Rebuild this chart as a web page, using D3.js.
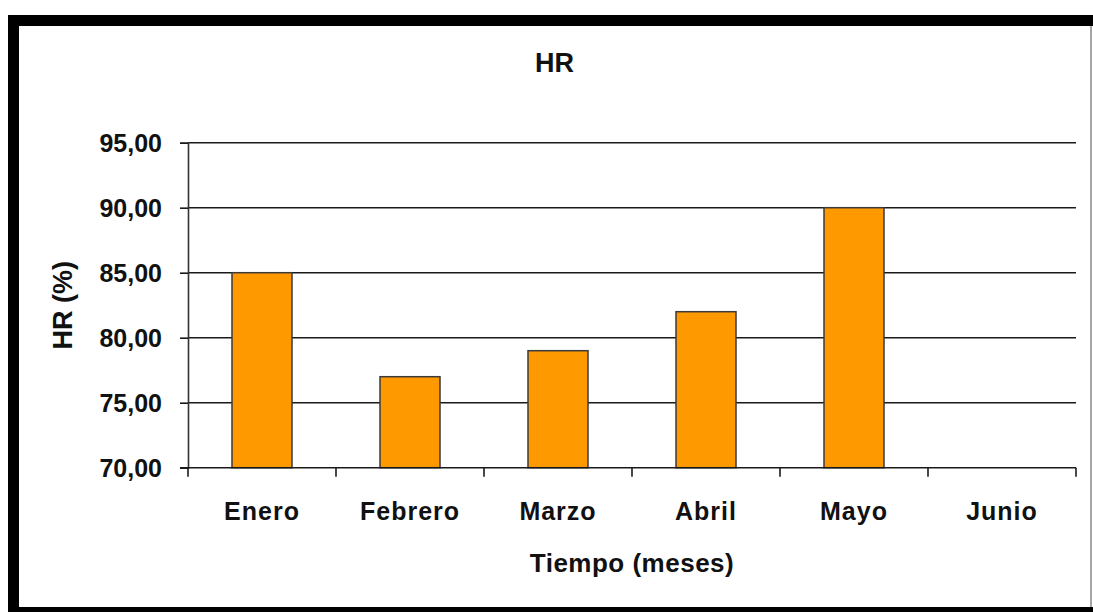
<!DOCTYPE html>
<html>
<head>
<meta charset="utf-8">
<script src="https://cdn.jsdelivr.net/npm/d3@7"></script>
<style>
  html, body { margin: 0; padding: 0; background: #fff; }
  svg text { font-family: "Liberation Sans", Arial, sans-serif; font-weight: bold; fill: #111; }
</style>
</head>
<body>
<div id="chart"></div>
<script>
// data
const months = ['Enero', 'Febrero', 'Marzo', 'Abril', 'Mayo', 'Junio'];
const hrValues = [85, 77, 79, 82, 90, null];
const yTicks = [70, 75, 80, 85, 90, 95];

const width = 1093, height = 612;
const margin = { top: 142.7, right: 17, bottom: 144.3, left: 188 };

const svg = d3.select('#chart').append('svg')
  .attr('width', width)
  .attr('height', height);

// frame (thick black top/left/bottom, thin grey right)
svg.append('rect').attr('x', 8).attr('y', 15).attr('width', width - 8).attr('height', 11).attr('fill', '#000');
svg.append('rect').attr('x', 8).attr('y', 15).attr('width', 11).attr('height', height - 15).attr('fill', '#000');
svg.append('rect').attr('x', 8).attr('y', 607).attr('width', width - 8).attr('height', 5).attr('fill', '#000');
svg.append('line').attr('x1', 1091).attr('x2', 1091).attr('y1', 26).attr('y2', 607)
  .attr('stroke', '#888').attr('stroke-width', 1.5);

const x = d3.scaleBand()
  .domain(months)
  .range([margin.left, width - margin.right])
  .padding(0);

const y = d3.scaleLinear()
  .domain([70, 95])
  .range([height - margin.bottom, margin.top]);

const locale = d3.formatLocale({ decimal: ',', thousands: '.', grouping: [3], currency: ['', ''] });
const fmt = locale.format('.2f');

// gridlines
svg.append('g')
  .selectAll('line')
  .data(yTicks.filter(t => t > 70))
  .enter().append('line')
  .attr('x1', margin.left)
  .attr('x2', width - margin.right)
  .attr('y1', d => y(d))
  .attr('y2', d => y(d))
  .attr('stroke', '#1a1a1a')
  .attr('stroke-width', 1.6);

// bars
const barW = 60;
svg.append('g')
  .selectAll('rect')
  .data(months.map((m, i) => ({ m: m, v: hrValues[i] })).filter(d => d.v != null))
  .enter().append('rect')
  .attr('x', d => x(d.m) + (x.bandwidth() - barW) / 2)
  .attr('y', d => y(d.v))
  .attr('width', barW)
  .attr('height', d => y(70) - y(d.v))
  .attr('fill', '#ff9900')
  .attr('stroke', '#3a3a3a')
  .attr('stroke-width', 1.5);

// y axis
const yAxis = svg.append('g')
  .attr('transform', 'translate(' + margin.left + ',0)')
  .call(d3.axisLeft(y).tickValues(yTicks).tickSize(8).tickPadding(18).tickFormat(fmt));
yAxis.select('.domain').attr('stroke', '#333').attr('stroke-width', 1.6);
yAxis.selectAll('.tick line').attr('stroke', '#1a1a1a').attr('stroke-width', 1.6);
yAxis.selectAll('.tick text')
  .attr('font-size', 25)
  .attr('dy', '0.36em')
  .attr('fill', '#111');

// x axis: ticks on category boundaries
const xAxisG = svg.append('g')
  .attr('transform', 'translate(0,' + y(70) + ')');
xAxisG.append('line')
  .attr('x1', margin.left - 8).attr('x2', width - margin.right)
  .attr('stroke', '#1a1a1a').attr('stroke-width', 1.6);
const bounds = months.map(m => x(m)).concat([x.range()[1]]);
xAxisG.selectAll('.xt')
  .data(bounds)
  .enter().append('line')
  .attr('class', 'xt')
  .attr('x1', d => d).attr('x2', d => d)
  .attr('y1', 0).attr('y2', 9)
  .attr('stroke', '#1a1a1a').attr('stroke-width', 1.6);
xAxisG.selectAll('.xl')
  .data(months)
  .enter().append('text')
  .attr('class', 'xl')
  .attr('x', d => x(d) + x.bandwidth() / 2)
  .attr('y', 52)
  .attr('text-anchor', 'middle')
  .attr('font-size', 25)
  .attr('letter-spacing', 1)
  .text(d => d);

// titles
svg.append('text')
  .attr('x', 554.5).attr('y', 72)
  .attr('text-anchor', 'middle')
  .attr('font-size', 27)
  .text('HR');

svg.append('text')
  .attr('x', (margin.left + width - margin.right) / 2).attr('y', 572)
  .attr('text-anchor', 'middle')
  .attr('font-size', 26)
  .attr('letter-spacing', 0.5)
  .text('Tiempo (meses)');

svg.append('text')
  .attr('transform', 'translate(72,' + ((y(70) + y(95)) / 2) + ') rotate(-90)')
  .attr('text-anchor', 'middle')
  .attr('font-size', 27)
  .text('HR (%)');
</script>
</body>
</html>
